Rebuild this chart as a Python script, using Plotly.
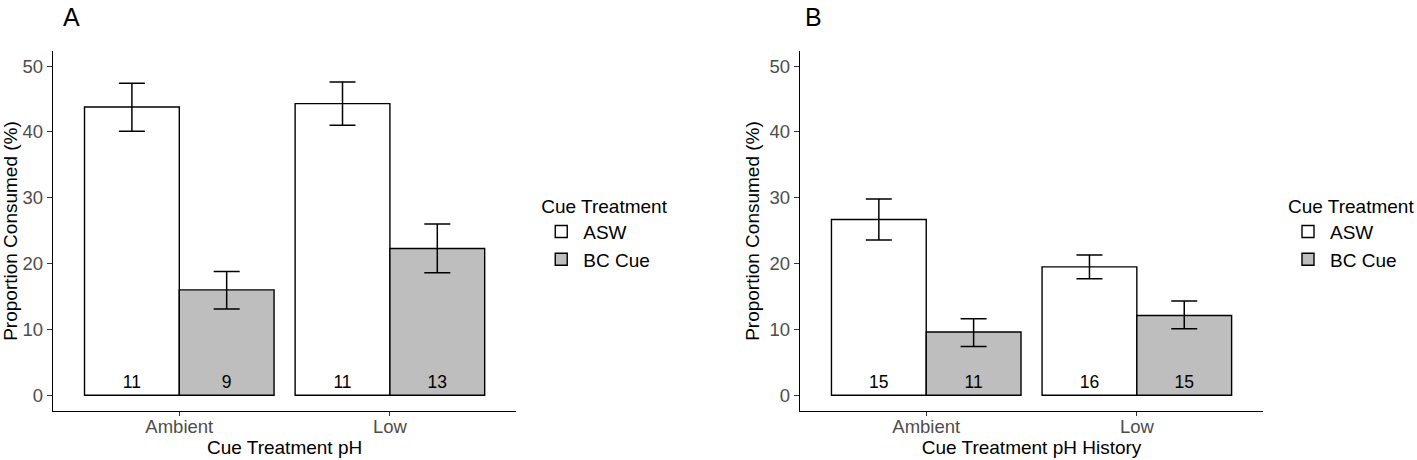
import plotly.graph_objects as go

categories = ["Ambient", "Low"]
groups = ["ASW", "BC Cue"]

# Panel A
a_asw = [43.8, 44.3]
a_asw_hi = [47.4, 47.6]
a_asw_lo = [40.1, 41.0]
a_asw_n = [11, 11]
a_bc = [16.0, 22.3]
a_bc_hi = [18.8, 26.0]
a_bc_lo = [13.1, 18.6]
a_bc_n = [9, 13]

# Panel B
b_asw = [26.7, 19.5]
b_asw_hi = [29.8, 21.3]
b_asw_lo = [23.6, 17.7]
b_asw_n = [15, 16]
b_bc = [9.6, 12.1]
b_bc_hi = [11.6, 14.3]
b_bc_lo = [7.4, 10.1]
b_bc_n = [11, 15]

FONT = "Liberation Sans, Arial, Helvetica, sans-serif"
fills = {"ASW": "#FFFFFF", "BC Cue": "#BEBEBE"}

W, H = 1417, 460
def px(x):
    return x / W
def py(y):
    return 1 - y / H

fig = go.Figure()

def add(vals, hi, lo, n, name, xa, ya, leg, show):
    fig.add_trace(go.Bar(
        x=categories, y=vals, name=name, xaxis=xa, yaxis=ya,
        offsetgroup=name, legend=leg, showlegend=show,
        marker=dict(color=fills[name], line=dict(color="#000000", width=1.4)),
        error_y=dict(type="data", symmetric=False,
                     array=[h - v for h, v in zip(hi, vals)],
                     arrayminus=[v - l for l, v in zip(lo, vals)],
                     color="#000000", thickness=1.5, width=13),
        text=[str(k) for k in n], textposition="inside", insidetextanchor="start",
        textangle=0, textfont=dict(family=FONT, size=17.5, color="#000000"),
        cliponaxis=False,
    ))

add(a_asw, a_asw_hi, a_asw_lo, a_asw_n, "ASW", "x", "y", "legend", True)
add(a_bc, a_bc_hi, a_bc_lo, a_bc_n, "BC Cue", "x", "y", "legend", True)
add(b_asw, b_asw_hi, b_asw_lo, b_asw_n, "ASW", "x2", "y2", "legend2", True)
add(b_bc, b_bc_hi, b_bc_lo, b_bc_n, "BC Cue", "x2", "y2", "legend2", True)

xcommon = dict(type="category", range=[-0.6, 1.6], showline=True, linecolor="#000000",
               linewidth=1.3, ticks="outside", ticklen=4, tickcolor="#333333", tickwidth=1.2,
               showgrid=False, zeroline=False, automargin=False, ticklabelstandoff=-5,
               tickfont=dict(family=FONT, size=18.5, color="#4D4D4D"),
               title_font=dict(family=FONT, size=19, color="#000000"), title_standoff=2)
ycommon = dict(range=[-2.4, 52.3], tickvals=[0, 10, 20, 30, 40, 50], showline=True,
               linecolor="#000000", linewidth=1.3, ticks="outside", ticklen=5,
               tickcolor="#333333", tickwidth=1.2, showgrid=False, zeroline=False,
               automargin=False,
               tickfont=dict(family=FONT, size=18.5, color="#4D4D4D"),
               title_text="Proportion Consumed (%)",
               title_font=dict(family=FONT, size=19, color="#000000"), title_standoff=4)

ydom = [py(411), py(51)]
legfont = dict(family=FONT, size=19, color="#000000")
fig.update_layout(
    width=W, height=H, margin=dict(l=0, r=0, t=0, b=0),
    paper_bgcolor="#FFFFFF", plot_bgcolor="#FFFFFF",
    barmode="group", bargap=0.1, bargroupgap=0,
    font=dict(family=FONT, color="#000000"),
    xaxis=dict(xcommon, domain=[px(53), px(517)], anchor="y",
               title_text="Cue Treatment pH"),
    yaxis=dict(ycommon, domain=ydom, anchor="x"),
    xaxis2=dict(xcommon, domain=[px(801), px(1265)], anchor="y2",
                title_text="Cue Treatment pH History"),
    yaxis2=dict(ycommon, domain=ydom, anchor="x2"),
    legend=dict(x=px(540), y=py(188), xanchor="left", yanchor="top",
                title=dict(text="Cue Treatment", font=legfont),
                font=legfont, bgcolor="rgba(0,0,0,0)",
                itemwidth=34, tracegroupgap=0),
    legend2=dict(x=px(1288), y=py(188), xanchor="left", yanchor="top",
                 title=dict(text="Cue Treatment", font=legfont),
                 font=legfont, bgcolor="rgba(0,0,0,0)",
                 itemwidth=34, tracegroupgap=0),
    annotations=[
        dict(text="A", x=px(72), y=py(17), xref="paper", yref="paper", showarrow=False,
             xanchor="center", yanchor="middle",
             font=dict(family=FONT, size=25, color="#000000")),
        dict(text="B", x=px(815), y=py(17), xref="paper", yref="paper", showarrow=False,
             xanchor="center", yanchor="middle",
             font=dict(family=FONT, size=25, color="#000000")),
    ],
)

fig.write_html("out.html", config={"displayModeBar": False},
               post_script="document.body.style.margin='0';document.body.style.padding='0';")
